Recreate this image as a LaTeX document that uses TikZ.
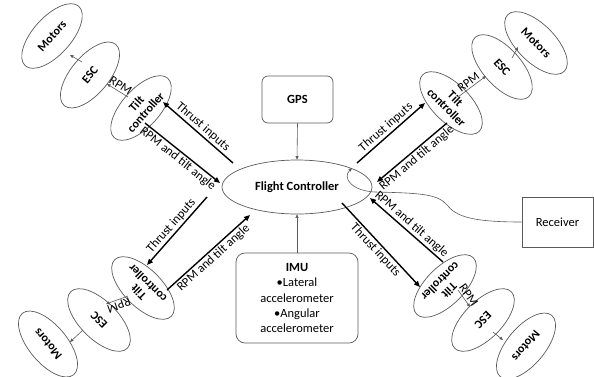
\documentclass[tikz,border=0pt]{standalone}
\usepackage{fontspec}
\setmainfont{Carlito}
\usetikzlibrary{shapes.geometric,arrows.meta}
\definecolor{edge}{HTML}{5A5A5A}
\begin{document}
\begin{tikzpicture}[x=1pt,y=-1pt,
  part/.style={ellipse, draw=edge, line width=0.7pt, minimum width=80pt,
    minimum height=38pt, inner sep=0pt, align=center,
    font=\bfseries\fontsize{12}{12.5}\selectfont},
  box/.style={draw=edge, line width=0.7pt, inner sep=2pt, align=center,
    font=\fontsize{12.5}{15.3}\selectfont},
  bigarrow/.style={line width=1.4pt, -{Triangle[length=6pt,width=5pt]}},
  thinarrow/.style={draw=edge, line width=0.6pt, -{Triangle[length=3.5pt,width=3pt]}},
  lbl/.style={font=\fontsize{12.5}{14}\selectfont, sloped, inner sep=1.5pt},
]
\useasboundingbox (0,0) rectangle (594,376);

% central blocks
\node[ellipse, draw=edge, line width=0.7pt, minimum width=150pt, minimum height=54pt,
  inner sep=0pt, font=\bfseries\fontsize{12.5}{15}\selectfont] (fc) at (297,187) {Flight Controller};
\node[box, rounded corners=6pt, minimum width=71pt, minimum height=47pt,
  font=\bfseries\fontsize{12.5}{15}\selectfont] (gps) at (297.5,99.5) {GPS};
\node[box, rounded corners=9pt, minimum width=122pt, minimum height=90pt] (imu) at (297,298)
  {\textbf{IMU}\\•Lateral\\accelerometer\\•Angular\\accelerometer};
\node[box, minimum width=71pt, minimum height=50pt] (rcv) at (557.5,222) {Receiver};

\draw[thinarrow] (gps.south) -- (fc.north);
\draw[thinarrow] (imu.north) -- (fc.south);
\coordinate (fcin) at (352,168);
\draw[thinarrow] (rcv.west) .. controls (470,222) and (456,216) .. (447,205)
  .. controls (438,194) and (420,193) .. (375,192)
  .. controls (352,191) and (342,178) .. (fcin);

% upper left arm
\node[part, rotate=48] (tlT) at (141,108) {Tilt\\controller};
\node[part, rotate=50] (tlE) at (90,75) {ESC};
\node[part, rotate=48] (tlM) at (52,36) {Motors};
\coordinate (tl1) at (233,163); \coordinate (tl2) at (163,102);
\coordinate (tl3) at (145,123); \coordinate (tl4) at (220,183);
\coordinate (tl5) at (128,97);  \coordinate (tl6) at (107,84);
\coordinate (tl7) at (82,62);   \coordinate (tl8) at (70,55);
\draw[bigarrow] (tl1) -- node[lbl, above] {Thrust inputs} (tl2);
\draw[bigarrow] (tl3) -- node[lbl, below] {RPM and tilt angle} (tl4);
\draw[thinarrow] (tl5) -- node[lbl, above, black] {RPM} (tl6);
\draw[thinarrow] (tl7) -- (tl8);

% upper right arm
\node[part, rotate=-45] (trT) at (451,103) {Tilt\\controller};
\node[part, rotate=-48] (trE) at (502,67) {ESC};
\node[part, rotate=-45] (trM) at (536,43) {Motors};
\coordinate (tr1) at (357,163); \coordinate (tr2) at (425,103);
\coordinate (tr3) at (447,123); \coordinate (tr4) at (377,182);
\coordinate (tr5) at (458,97);  \coordinate (tr6) at (486,76);
\coordinate (tr7) at (512,58);  \coordinate (tr8) at (518,47);
\draw[bigarrow] (tr1) -- node[lbl, above] {Thrust inputs} (tr2);
\draw[bigarrow] (tr3) -- node[lbl, below] {RPM and tilt angle} (tr4);
\draw[thinarrow] (tr5) -- node[lbl, above, black] {RPM} (tr6);
\draw[thinarrow] (tr7) -- (tr8);

% lower left arm
\node[part, rotate=135] (blT) at (143,288) {Tilt\\controller};
\node[part, rotate=135] (blE) at (99,320) {ESC};
\node[part, rotate=130] (blM) at (48,344) {Motors};
\coordinate (bl1) at (207,197); \coordinate (bl2) at (147,265);
\coordinate (bl3) at (167,290); \coordinate (bl4) at (250,215);
\coordinate (bl5) at (128,296); \coordinate (bl6) at (106,304);
\coordinate (bl7) at (83,330);  \coordinate (bl8) at (70,342);
\draw[bigarrow] (bl1) -- node[lbl, above] {Thrust inputs} (bl2);
\draw[bigarrow] (bl3) -- node[lbl, below] {RPM and tilt angle} (bl4);
\draw[thinarrow] (bl5) -- node[lbl, above, black, allow upside down] {RPM} (bl6);
\draw[thinarrow] (bl7) -- (bl8);

% lower right arm
\node[part, rotate=-135] (brT) at (445,286) {Tilt\\controller};
\node[part, rotate=-135] (brE) at (483,320) {ESC};
\node[part, rotate=-130] (brM) at (526,346) {Motors};
\coordinate (br1) at (342,203); \coordinate (br2) at (420,287);
\coordinate (br3) at (443,262); \coordinate (br4) at (370,198);
\coordinate (br5) at (458,290); \coordinate (br6) at (470,307);
\coordinate (br7) at (493,332); \coordinate (br8) at (503,340);
\draw[bigarrow] (br1) -- node[lbl, below] {Thrust inputs} (br2);
\draw[bigarrow] (br3) -- node[lbl, above] {RPM and tilt angle} (br4);
\draw[thinarrow] (br5) -- node[lbl, above, black] {RPM} (br6);
\draw[thinarrow] (br7) -- (br8);
\end{tikzpicture}
\end{document}
